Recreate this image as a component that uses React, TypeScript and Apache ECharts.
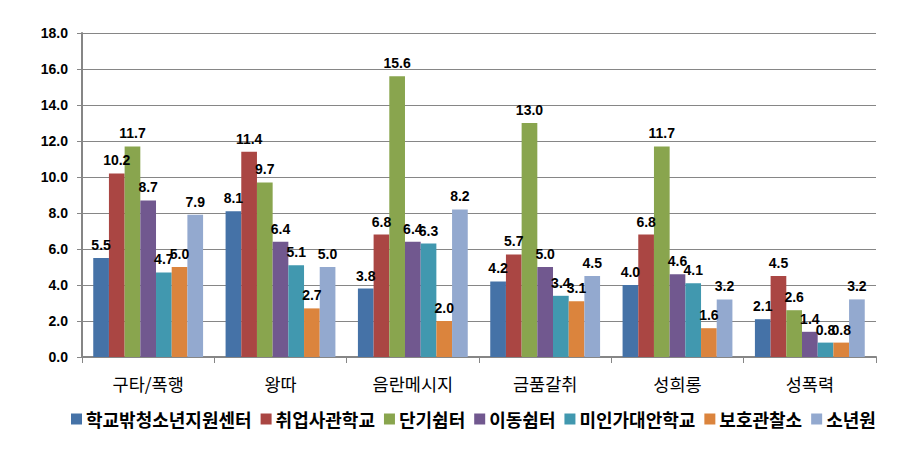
import React, { useEffect, useRef } from "react";
import * as echarts from "echarts";

const categories = ["구타/폭행", "왕따", "음란메시지", "금품갈취", "성희롱", "성폭력"];
const seriesNames = ["학교밖청소년지원센터", "취업사관학교", "단기쉼터", "이동쉼터", "미인가대안학교", "보호관찰소", "소년원"];
const s1 = [5.5, 8.1, 3.8, 4.2, 4.0, 2.1];
const s2 = [10.2, 11.4, 6.8, 5.7, 6.8, 4.5];
const s3 = [11.7, 9.7, 15.6, 13.0, 11.7, 2.6];
const s4 = [8.7, 6.4, 6.4, 5.0, 4.6, 1.4];
const s5 = [4.7, 5.1, 6.3, 3.4, 4.1, 0.8];
const s6 = [5.0, 2.7, 2.0, 3.1, 1.6, 0.8];
const s7 = [7.9, 5.0, 8.2, 4.5, 3.2, 3.2];
const seriesData = [s1, s2, s3, s4, s5, s6, s7];
const colors = ["#4572A7", "#AA4643", "#89A54E", "#71588F", "#4198AF", "#DB843D", "#93A9CF"];

const FONT = "'Liberation Sans', 'Noto Sans CJK KR', sans-serif";
const KFONT = "'Noto Sans CJK KR', 'Liberation Sans', sans-serif";

export default function App() {
  const ref = useRef<HTMLDivElement>(null);
  useEffect(() => {
    if (!ref.current) return;
    const chart = echarts.init(ref.current, undefined, { renderer: "svg" });
    chart.setOption({
      animation: false,
      color: colors,
      grid: { left: 82, right: 24, top: 33, bottom: 92 },
      legend: {
        bottom: 16,
        left: 66,
        itemWidth: 11,
        itemHeight: 11,
        itemGap: 9,
        icon: "rect",
        textStyle: { fontFamily: KFONT, fontSize: 18, fontWeight: "bold", color: "#000", padding: [0, 0, 0, -1] },
        data: seriesNames,
      },
      xAxis: {
        type: "category",
        data: categories,
        axisLine: { lineStyle: { color: "#868686", width: 2 } },
        axisTick: { show: true, length: 6, alignWithLabel: false, lineStyle: { color: "#868686" } },
        axisLabel: { fontFamily: KFONT, fontSize: 17.5, color: "#000", margin: 18 },
      },
      yAxis: {
        type: "value",
        min: 0,
        max: 18,
        interval: 2,
        axisLine: { show: true, lineStyle: { color: "#868686", width: 2 } },
        axisTick: { show: true, length: 5, lineStyle: { color: "#868686" } },
        axisLabel: {
          fontFamily: FONT,
          fontSize: 14,
          fontWeight: "bold",
          color: "#000",
          margin: 14,
          formatter: (v: number) => v.toFixed(1),
        },
        splitLine: { lineStyle: { color: "#868686", width: 1 } },
      },
      series: seriesNames.map((name, i) => ({
        name,
        type: "bar",
        data: seriesData[i],
        barGap: "0%",
        barCategoryGap: "17%",
        itemStyle: { color: colors[i] },
        label: {
          show: true,
          position: "top",
          distance: 6,
          fontFamily: FONT,
          fontSize: 14,
          fontWeight: "bold",
          color: "#000",
          formatter: (p: any) => Number(p.value).toFixed(1),
        },
      })),
    });
    return () => chart.dispose();
  }, []);
  return <div ref={ref} style={{ width: 900, height: 449, margin: -8 }} />;
}
